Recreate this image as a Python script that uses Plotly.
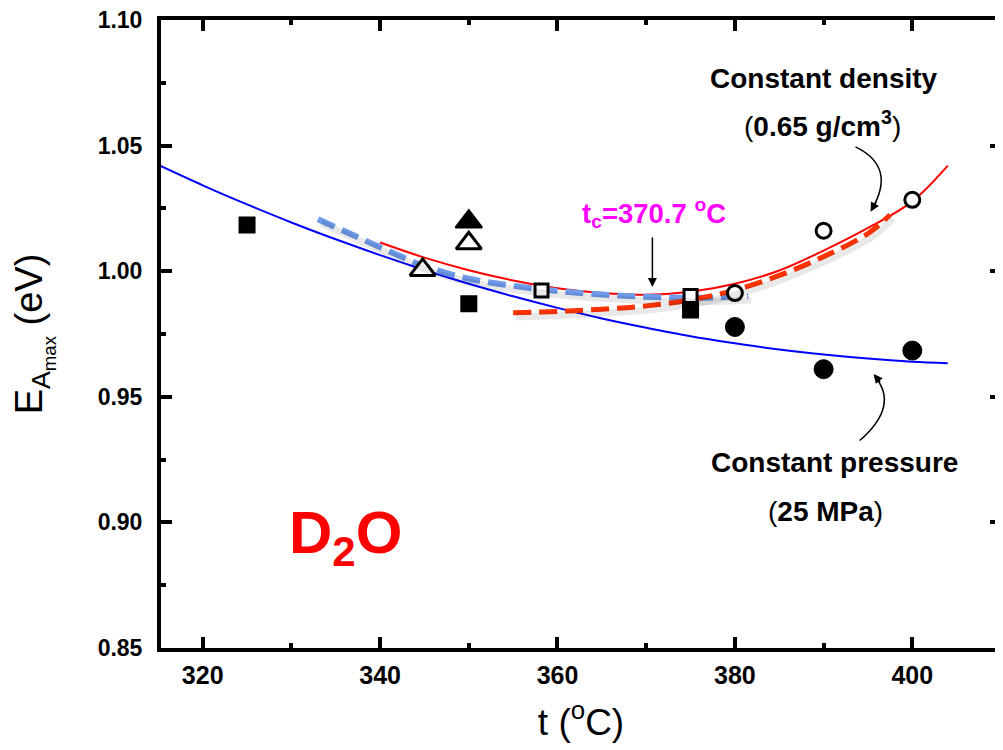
import plotly.graph_objects as go

# ---------------- data ----------------
# fitted curves
t_cp = [315, 320, 325, 330, 335, 340, 345, 350, 355, 360, 365, 370, 375, 380, 385, 390, 395, 400, 404]
E_cp = [1.0423, 1.0342, 1.0266, 1.0194, 1.0127, 1.0064, 1.0005, 0.9950, 0.9900, 0.9854, 0.9812,
        0.9775, 0.9741, 0.9713, 0.9688, 0.9668, 0.9652, 0.9640, 0.9634]

t_cd = [340, 345, 350, 355, 360, 365, 370, 375, 380, 385, 390, 395, 400, 404]
E_cd = [1.0114, 1.0054, 1.0004, 0.9963, 0.9932, 0.9913, 0.9906, 0.9918, 0.9950, 1.0003, 1.0082,
        1.0172, 1.0278, 1.0420]

t_bd = [333, 337, 341, 345, 350, 355, 360, 365, 370, 375, 381.5]
E_bd = [1.0207, 1.0143, 1.0080, 1.0020, 0.9970, 0.9942, 0.9921, 0.9907, 0.9898, 0.9894, 0.9900]

t_rd = [355, 360, 365, 370, 375, 380, 385, 390, 395, 397.5]
E_rd = [0.9835, 0.9840, 0.9849, 0.9862, 0.9886, 0.9925, 0.9983, 1.0058, 1.0150, 1.0225]

# data points
t_sq_f = [325, 350, 375]
E_sq_f = [1.0184, 0.9870, 0.9846]
t_sq_o = [358.2, 375]
E_sq_o = [0.9923, 0.9901]
t_tri_o = [344.8, 350]
E_tri_o = [1.0005, 1.0111]
t_tri_f = [350]
E_tri_f = [1.0197]
t_ci_o = [380, 390, 400]
E_ci_o = [0.9913, 1.0161, 1.0284]
t_ci_f = [380, 390, 400]
E_ci_f = [0.9778, 0.9610, 0.9684]

x_ticks = [320, 340, 360, 380, 400]
y_ticks = [0.85, 0.90, 0.95, 1.00, 1.05, 1.10]
y_ticklabels = ["0.85", "0.90", "0.95", "1.00", "1.05", "1.10"]

t_c = 370.7

XR = [315.3, 410]
YR = [0.85, 1.10]

fig = go.Figure()

# soft shadows drawn on an overlaid, slightly shifted pair of axes
px_x = 8.87
px_y = 0.05 / 125.6
sx = [XR[0] - 3 / px_x, XR[1] - 3 / px_x]
sy = [YR[0] + 4 * px_y, YR[1] + 4 * px_y]
shadow = dict(color="rgba(0,0,0,0.09)", width=7, shape="spline")
fig.add_trace(go.Scatter(x=t_bd, y=E_bd, mode="lines", line=shadow, xaxis="x2", yaxis="y2",
                         showlegend=False, hoverinfo="skip"))
fig.add_trace(go.Scatter(x=t_rd, y=E_rd, mode="lines", line=shadow, xaxis="x2", yaxis="y2",
                         showlegend=False, hoverinfo="skip"))

# curves
fig.add_trace(go.Scatter(x=t_cp, y=E_cp, mode="lines", line=dict(color="#0000FF", width=2, shape="spline"),
                         showlegend=False))
fig.add_trace(go.Scatter(x=t_cd, y=E_cd, mode="lines", line=dict(color="#FF0000", width=2, shape="spline"),
                         showlegend=False))
fig.add_trace(go.Scatter(x=t_bd, y=E_bd, mode="lines",
                         line=dict(color="#6E9CEB", width=6, dash="18px,8px", shape="spline"),
                         showlegend=False))
fig.add_trace(go.Scatter(x=t_rd, y=E_rd, mode="lines",
                         line=dict(color="#FF3300", width=5, dash="18px,8px", shape="spline"),
                         showlegend=False))

# markers
fig.add_trace(go.Scatter(x=t_sq_f, y=E_sq_f, mode="markers",
                         marker=dict(symbol="square", size=15, color="black", line=dict(color="black", width=2)),
                         showlegend=False))
fig.add_trace(go.Scatter(x=t_sq_o, y=E_sq_o, mode="markers",
                         marker=dict(symbol="square", size=13, color="white", line=dict(color="black", width=3)),
                         showlegend=False))
fig.add_trace(go.Scatter(x=t_tri_o, y=E_tri_o, mode="markers",
                         marker=dict(symbol="triangle-up", size=22, color="white", line=dict(color="black", width=3)),
                         showlegend=False))
fig.add_trace(go.Scatter(x=t_tri_f, y=E_tri_f, mode="markers",
                         marker=dict(symbol="triangle-up", size=23, color="black", line=dict(color="black", width=2)),
                         showlegend=False))
fig.add_trace(go.Scatter(x=t_ci_o, y=E_ci_o, mode="markers",
                         marker=dict(symbol="circle", size=15, color="white", line=dict(color="black", width=3)),
                         showlegend=False))
fig.add_trace(go.Scatter(x=t_ci_f, y=E_ci_f, mode="markers",
                         marker=dict(symbol="circle", size=19, color="black", line=dict(color="black", width=1)),
                         showlegend=False))

axis_common = dict(showgrid=False, zeroline=False, showline=True, linecolor="black", linewidth=4,
                   mirror="ticks", ticks="inside", ticklen=11, tickwidth=4, tickcolor="black",
                   automargin=False, ticklabeloverflow="allow")

fig.update_layout(
    width=1003, height=750,
    margin=dict(l=153, r=10, t=12, b=110),
    paper_bgcolor="white", plot_bgcolor="white",
    font=dict(family="Arial, Liberation Sans, sans-serif", color="black"),
    xaxis=dict(range=XR, tickvals=x_ticks, **axis_common,
               minor=dict(dtick=10, tick0=310, ticks="inside", ticklen=5, tickwidth=4, tickcolor="black"),
               tickfont=dict(family="Arial, Liberation Sans, sans-serif", size=25,
                             weight="bold", color="black"),
               ticklabelstandoff=2,
               title=dict(text="t (<sup>o</sup>C)", font=dict(size=37, family="Arial, Liberation Sans"),
                          standoff=22)),
    yaxis=dict(range=YR, tickvals=y_ticks, ticktext=y_ticklabels, **axis_common,
               minor=dict(dtick=0.025, tick0=0.85, ticks="inside", ticklen=5, tickwidth=4, tickcolor="black"),
               tickfont=dict(family="Arial, Liberation Sans, sans-serif", size=23, weight="bold", color="black"),
               ticklabelstandoff=10,
               title=dict(text="E<sub>A<sub>max</sub></sub> (eV)", font=dict(size=38, family="Arial, Liberation Sans"),
                          standoff=44)),
    xaxis2=dict(range=sx, overlaying="x", visible=False),
    yaxis2=dict(range=sy, overlaying="y", visible=False),
)

# text annotations
ann_font = dict(family="Arial, Liberation Sans, sans-serif", size=28, color="black")
fig.add_annotation(x=390.0, y=1.0769, xref="x", yref="y", text="<b>Constant density</b>",
                   showarrow=False, font=ann_font)
fig.add_annotation(x=389.9, y=1.0586, xref="x", yref="y", text="(<b>0.65 g/cm<sup>3</sup></b>)",
                   showarrow=False, font=ann_font)
fig.add_annotation(x=391.2, y=0.9237, xref="x", yref="y", text="<b>Constant pressure</b>",
                   showarrow=False, font=ann_font)
fig.add_annotation(x=390.2, y=0.9042, xref="x", yref="y", text="(<b>25 MPa</b>)",
                   showarrow=False, font=ann_font)
fig.add_annotation(x=370.85, y=1.0232, xref="x", yref="y",
                   text="<b>t<sub>c</sub>=370.7 <sup>o</sup>C</b>",
                   showarrow=False, font=dict(family="Arial, Liberation Sans", size=27.5, color="#FF00FF"))
fig.add_annotation(x=336.1, y=0.8940, xref="x", yref="y", text="<b>D<sub>2</sub>O</b>",
                   showarrow=False, font=dict(family="Arial, Liberation Sans", size=60, color="#FF0000"))

# straight arrow to t_c
fig.add_annotation(x=t_c, y=0.9937, ax=t_c, ay=1.0140, xref="x", yref="y", axref="x", ayref="y",
                   text="", showarrow=True, arrowhead=2, arrowsize=1.2, arrowwidth=1.5, arrowcolor="black")

# curved arrows (quadratic paths in data space + arrow heads)
fig.add_shape(type="path", xref="x", yref="y",
              path="M 393.6,1.0495 Q 398.2,1.0416 395.5,1.0250",
              line=dict(color="black", width=1.5))
fig.add_annotation(x=395.3, y=1.0237, ax=396.0, ay=1.0282, xref="x", yref="y", axref="x", ayref="y",
                   text="", showarrow=True, arrowhead=2, arrowsize=1.2, arrowwidth=1.5, arrowcolor="black")
fig.add_shape(type="path", xref="x", yref="y",
              path="M 394.07,0.9326 Q 398.56,0.9464 395.8,0.9580",
              line=dict(color="black", width=1.5))
fig.add_annotation(x=395.65, y=0.9591, ax=396.5, ay=0.9553, xref="x", yref="y", axref="x", ayref="y",
                   text="", showarrow=True, arrowhead=2, arrowsize=1.2, arrowwidth=1.5, arrowcolor="black")

fig.write_html("out.html")
